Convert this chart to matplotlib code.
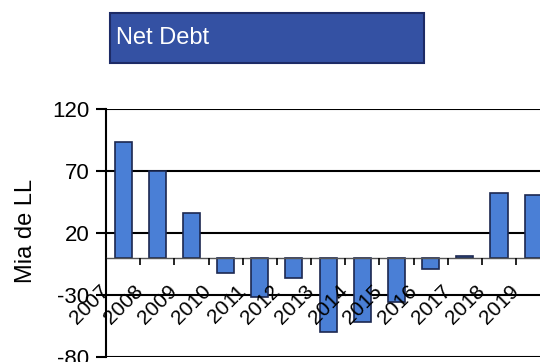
import matplotlib
matplotlib.use("Agg")
import matplotlib.pyplot as plt
import numpy as np
from matplotlib.patches import Rectangle

plt.rcParams['font.family'] = ['Liberation Sans', 'DejaVu Sans']

years = ['2007', '2008', '2009', '2010', '2011', '2012', '2013',
         '2014', '2015', '2016', '2017', '2018', '2019']
net_debt = [93, 70, 36, -12, -32, -16, -60, -52, -36, -9, 1.5, 52, 51]
y_ticks = [-80, -30, 20, 70, 120]

fig = plt.figure(figsize=(5.4, 3.62), dpi=100)
ax = fig.add_axes([106/540, 1-357/362, 1-106/540, (357-109)/362])
ax.set_axisbelow(False)

x = np.arange(len(years))
ax.bar(x, net_debt, width=0.5, color='#4a7fd6', edgecolor='#1c2850', linewidth=1.2, zorder=2)

ax.set_ylim(-80, 120)
ax.set_xlim(-0.5, 12.2)
ax.set_yticks(y_ticks)
ax.set_yticklabels([str(v) for v in y_ticks], fontsize=16)
for v in y_ticks:
    ax.axhline(v, color='black', lw=1.5, zorder=1)

for s in ['top', 'right']:
    ax.spines[s].set_visible(False)
ax.spines['left'].set_linewidth(1.5)
ax.spines['bottom'].set_position(('data', 0))
ax.spines['bottom'].set_color('#555555')
ax.spines['bottom'].set_linewidth(1.0)

ax.set_xticks(x - 0.5)
ax.set_xticklabels(years, fontsize=15, rotation=45, ha='right', va='center',
                   rotation_mode='anchor')
ax.tick_params(axis='x', direction='out', length=5, width=1.2, color='black', pad=17)
ax.tick_params(axis='y', direction='out', length=7, width=1.5, pad=5)

ax.set_ylabel('Mia de LL', fontsize=17)
ax.yaxis.set_label_coords(-0.16, 0.51)

fig.patches.append(Rectangle((110/540, 1-63/362), 314/540, 50/362,
                             transform=fig.transFigure, facecolor='#3451a3',
                             edgecolor='#1d2b66', linewidth=1.5))
fig.text(116/540, 1-38/362, 'Net Debt', color='white', fontsize=17,
         ha='left', va='center')

fig.savefig('out.png', dpi=100)
